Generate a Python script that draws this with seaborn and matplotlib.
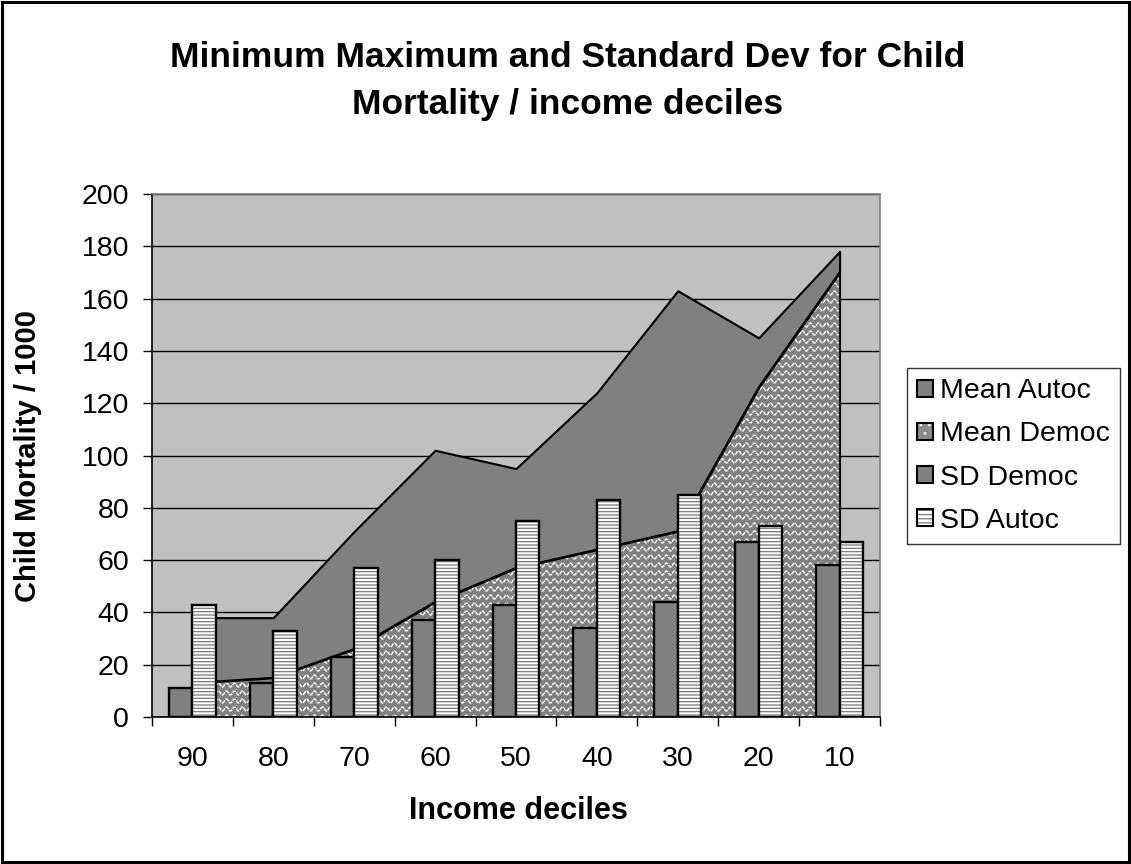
import numpy as np
import pandas as pd
import matplotlib
matplotlib.use("Agg")
import matplotlib.pyplot as plt
import seaborn as sns
from matplotlib.patches import Patch, Rectangle
from matplotlib.collections import LineCollection
from matplotlib.legend_handler import HandlerTuple

# ---- data -------------------------------------------------------------
deciles = ["90", "80", "70", "60", "50", "40", "30", "20", "10"]
mean_autoc = [11, 13, 23, 37, 43, 34, 44, 67, 58]
sd_autoc = [43, 33, 57, 60, 75, 83, 85, 73, 67]
mean_democ = [13, 15, 26, 44, 57, 64, 71, 126, 170]
sd_democ = [25, 23, 45, 58, 38, 60, 92, 19, 8]
y_ticks = [0, 20, 40, 60, 80, 100, 120, 140, 160, 180, 200]

# ---- style ------------------------------------------------------------
sns.set_theme(style="white")
plt.rcParams["font.family"] = ["Liberation Sans", "DejaVu Sans"]
plt.rcParams["hatch.linewidth"] = 0.9

DARK = "#808080"
PLOT_BG = "#C0C0C0"

W, H = 1131, 864
fig = plt.figure(figsize=(W / 100, H / 100), dpi=100)
fig.patch.set_facecolor("white")

# plot area in pixel geometry
L, R, T, B = 152, 880, 194, 717
ax = fig.add_axes([L / W, 1 - B / H, (R - L) / W, (B - T) / H])
ax.set_facecolor(PLOT_BG)

# ---- bars (Mean Autoc / SD Autoc) ------------------------------------
bars_df = pd.DataFrame({
    "decile": deciles * 2,
    "value": mean_autoc + sd_autoc,
    "series": ["Mean Autoc"] * len(deciles) + ["SD Autoc"] * len(deciles),
})
sns.barplot(data=bars_df, x="decile", y="value", hue="series",
            order=deciles, hue_order=["Mean Autoc", "SD Autoc"],
            palette={"Mean Autoc": DARK, "SD Autoc": "white"},
            width=0.58, gap=0, edgecolor="black", linewidth=1.7,
            saturation=1, legend=False, zorder=3, ax=ax)

# striped fill for the SD Autoc bars: grey stripes, black outline on top
for p in ax.containers[1]:
    p.set_hatch("-----")
    p.set_edgecolor("#7a7a7a")
    p.set_linewidth(0)
    ax.add_patch(Rectangle(p.get_xy(), p.get_width(), p.get_height(),
                           fill=False, ec="black", lw=1.7, zorder=3.2))

# ---- stacked areas (Mean Democ + SD Democ) ---------------------------
xpos = np.arange(len(deciles))
lower = np.array(mean_democ, dtype=float)
upper = lower + np.array(sd_democ, dtype=float)

ax.fill_between(xpos, lower, upper, facecolor=DARK, edgecolor="black",
                linewidth=1.5, zorder=1.5)
base = ax.fill_between(xpos, 0, lower, facecolor=DARK, edgecolor="none",
                       linewidth=0, zorder=1.2)
ax.plot(xpos, lower, color="black", lw=1.5, zorder=1.6)
ax.plot([xpos[-1], xpos[-1]], [0, upper[-1]], color="black", lw=1.5, zorder=1.6)

# wavy white texture inside the Mean Democ area
px_x = (R - L) / len(deciles)      # pixels per category
px_y = (B - T) / 200.0             # pixels per unit
wl = 8.0 / px_x                    # wavelength
amp = 2.0 / px_y                   # amplitude
step = 8.0 / px_y                  # row spacing
xs = np.linspace(-0.5, len(deciles) - 0.5, 3000)
segs = []
for y0 in np.arange(-step, 200, step):
    ys = y0 + amp * np.sin(2 * np.pi * xs / wl)
    segs.append(np.column_stack([xs, ys]))
waves = LineCollection(segs, colors="white", linewidths=1.0,
                       linestyles=(0, (3.0, 0.7)), zorder=1.3)
ax.add_collection(waves)
waves.set_clip_path(base.get_paths()[0], ax.transData)

# ---- axes -------------------------------------------------------------
ax.set_xlim(-0.5, len(deciles) - 0.5)
ax.set_ylim(0, 200)
ax.set_yticks(y_ticks)
ax.grid(axis="y", color="black", linewidth=1.0, zorder=0.5)
ax.grid(axis="x", visible=False)
ax.set_axisbelow(True)

ax.set_xticks(xpos)
ax.set_xticklabels(deciles)
ax.set_xticks(np.arange(-0.5, len(deciles)), minor=True)
ax.tick_params(axis="x", which="major", length=0, pad=21, labelsize=20.5,
               colors="black")
ax.tick_params(axis="x", which="minor", length=6.5, width=1.0,
               color="black", direction="out", bottom=True)
ax.tick_params(axis="y", which="major", length=6.5, width=1.0, pad=10,
               labelsize=20.5, color="black", direction="out", left=True,
               labelcolor="black")

for side in ("left", "bottom"):
    ax.spines[side].set_color("black")
    ax.spines[side].set_linewidth(1.2)
for side in ("top", "right"):
    ax.spines[side].set_color(DARK)
    ax.spines[side].set_linewidth(1.2)
for s in ax.spines.values():
    s.set_zorder(4)

ax.set_xlabel("Income deciles", fontsize=22, fontweight="bold",
              color="black")
ax.xaxis.set_label_coords((518 - L) / (R - L), (B - 811) / (B - T))
ax.xaxis.label.set_va("center")
ax.set_ylabel("Child Mortality / 1000", fontsize=21, fontweight="bold",
              color="black")
ax.yaxis.set_label_coords((28 - L) / (R - L), 0.5)
ax.yaxis.label.set_va("center")

# ---- title ------------------------------------------------------------
fig.text(568 / W, 1 - 81 / H,
         "Minimum Maximum and Standard Dev for Child\nMortality / income deciles",
         ha="center", va="center", fontsize=25.5, fontweight="bold",
         linespacing=1.55, color="black")

# ---- legend -----------------------------------------------------------
h_mean_autoc = Patch(facecolor=DARK, edgecolor="black", linewidth=1.5)
h_mean_democ = (Patch(facecolor="#8a8a8a", edgecolor="#f0f0f0", hatch="..",
                      linewidth=0),
                Patch(fill=False, edgecolor="black", linewidth=1.5))
h_sd_democ = Patch(facecolor=DARK, edgecolor="black", linewidth=1.5)
h_sd_autoc = (Patch(facecolor="white", edgecolor="#7a7a7a", hatch="----",
                    linewidth=0),
              Patch(fill=False, edgecolor="black", linewidth=1.5))
leg = fig.legend([h_mean_autoc, h_mean_democ, h_sd_democ, h_sd_autoc],
                 ["Mean Autoc", "Mean Democ", "SD Democ", "SD Autoc"],
                 handler_map={tuple: HandlerTuple(ndivide=1, pad=0)},
                 loc="center left", bbox_to_anchor=(907 / W, 1 - 456 / H),
                 fontsize=20.5, frameon=True, fancybox=False, shadow=False,
                 handlelength=0.55, handleheight=0.55, handletextpad=0.25,
                 labelspacing=0.6, borderpad=0.35, borderaxespad=0)
leg.get_frame().set_edgecolor("black")
leg.get_frame().set_linewidth(1.0)
leg.get_frame().set_facecolor("white")
for t in leg.get_texts():
    t.set_color("black")

# ---- outer chart border ----------------------------------------------
fig.patches.append(Rectangle((0.002, 0.002), 0.996, 0.996,
                             transform=fig.transFigure, fill=False,
                             ec="black", lw=2.2, zorder=10))

fig.savefig("out.png", dpi=100, facecolor="white")
